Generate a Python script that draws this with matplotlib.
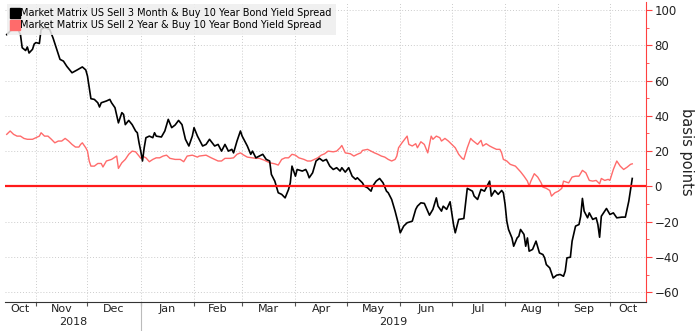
import numpy as np
import pandas as pd
import matplotlib
matplotlib.use("Agg")
import matplotlib.pyplot as plt
import matplotlib.dates as mdates
from matplotlib.lines import Line2D
from matplotlib.ticker import MultipleLocator
import matplotlib.transforms as mtransforms

plt.rcParams['font.family'] = ['DejaVu Sans']

# Sell 3M / buy 10Y spread (bp)
m3_dates = [
    "2018-10-15", "2018-10-17", "2018-10-19", "2018-10-21", "2018-10-22", "2018-10-23",
    "2018-10-24", "2018-10-26", "2018-10-27", "2018-10-28", "2018-10-30", "2018-10-31",
    "2018-11-01", "2018-11-03", "2018-11-04", "2018-11-06", "2018-11-09", "2018-11-11",
    "2018-11-14", "2018-11-15", "2018-11-17", "2018-11-19", "2018-11-22", "2018-11-25",
    "2018-11-28", "2018-11-30", "2018-12-01", "2018-12-02", "2018-12-03", "2018-12-05",
    "2018-12-07", "2018-12-08", "2018-12-09", "2018-12-12", "2018-12-14", "2018-12-15",
    "2018-12-17", "2018-12-19", "2018-12-21", "2018-12-22", "2018-12-23", "2018-12-25",
    "2018-12-27", "2018-12-29", "2018-12-30", "2018-12-31", "2019-01-01", "2019-01-02",
    "2019-01-03", "2019-01-04", "2019-01-06", "2019-01-08", "2019-01-09", "2019-01-10",
    "2019-01-13", "2019-01-15", "2019-01-17", "2019-01-19", "2019-01-21", "2019-01-23",
    "2019-01-25", "2019-01-27", "2019-01-29", "2019-01-31", "2019-02-01", "2019-02-03",
    "2019-02-06", "2019-02-08", "2019-02-10", "2019-02-13", "2019-02-15", "2019-02-17",
    "2019-02-19", "2019-02-21", "2019-02-23", "2019-02-24", "2019-02-26", "2019-02-28",
    "2019-03-01", "2019-03-04", "2019-03-06", "2019-03-07", "2019-03-09", "2019-03-11",
    "2019-03-13", "2019-03-15", "2019-03-17", "2019-03-18", "2019-03-20", "2019-03-22",
    "2019-03-24", "2019-03-26", "2019-03-28", "2019-03-29", "2019-03-30", "2019-04-01",
    "2019-04-02", "2019-04-05", "2019-04-07", "2019-04-08", "2019-04-09", "2019-04-11",
    "2019-04-13", "2019-04-15", "2019-04-17", "2019-04-19", "2019-04-21", "2019-04-23",
    "2019-04-25", "2019-04-27", "2019-04-28", "2019-04-30", "2019-05-02", "2019-05-04",
    "2019-05-06", "2019-05-07", "2019-05-10", "2019-05-11", "2019-05-13", "2019-05-15",
    "2019-05-16", "2019-05-18", "2019-05-20", "2019-05-22", "2019-05-24", "2019-05-25",
    "2019-05-27", "2019-05-29", "2019-05-31", "2019-06-01", "2019-06-03", "2019-06-05",
    "2019-06-08", "2019-06-10", "2019-06-11", "2019-06-13", "2019-06-15", "2019-06-18",
    "2019-06-20", "2019-06-22", "2019-06-23", "2019-06-25", "2019-06-26", "2019-06-28",
    "2019-06-30", "2019-07-02", "2019-07-03", "2019-07-05", "2019-07-08", "2019-07-10",
    "2019-07-13", "2019-07-14", "2019-07-16", "2019-07-18", "2019-07-20", "2019-07-23",
    "2019-07-24", "2019-07-26", "2019-07-28", "2019-07-30", "2019-07-31", "2019-08-01",
    "2019-08-02", "2019-08-03", "2019-08-05", "2019-08-06", "2019-08-08", "2019-08-09",
    "2019-08-10", "2019-08-12", "2019-08-13", "2019-08-14", "2019-08-15", "2019-08-17",
    "2019-08-19", "2019-08-21", "2019-08-23", "2019-08-24", "2019-08-25", "2019-08-27",
    "2019-08-29", "2019-08-31", "2019-09-02", "2019-09-04", "2019-09-05", "2019-09-06",
    "2019-09-08", "2019-09-09", "2019-09-11", "2019-09-13", "2019-09-14", "2019-09-15",
    "2019-09-16", "2019-09-18", "2019-09-19", "2019-09-21", "2019-09-23", "2019-09-24",
    "2019-09-25", "2019-09-26", "2019-09-28", "2019-09-29", "2019-10-01", "2019-10-03",
    "2019-10-05", "2019-10-08", "2019-10-10", "2019-10-12", "2019-10-13", "2019-10-14",
]
m3_spread = [
    86, 88, 89.3, 90, 88, 86,
    78.6, 77, 79, 75.6, 77.7, 80.7,
    81.5, 81, 89, 90, 89, 84,
    75, 72, 71, 68, 64.4, 66,
    67.7, 66, 62.5, 56, 49.7, 49.3,
    47.4, 45, 47.4, 48.4, 49.3, 47.4,
    44.6, 36, 41.8, 40.8, 35, 37.4,
    35, 31.4, 30.4, 24.7, 20, 14.4,
    21.9, 27.6, 28.5, 27.6, 30.4, 28.5,
    28, 31.4, 38, 33.3, 34.8, 37.4,
    35, 26.7, 22.9, 28.5, 33.3, 28.5,
    22.9, 23.8, 26.7, 22.9, 23.8, 20,
    23.8, 20, 21, 19, 25.7, 31.4,
    28.5, 22.9, 18.2, 20, 16.2, 17.2,
    18.2, 15.3, 14.4, 6.8, 3, -3.6,
    -4.5, -6.5, -1.7, 2, 11.5, 5.8,
    9.6, 8.7, 9.6, 7.7, 4.9, 7.7,
    14.4, 15.9, 14.4, 15.3, 11.5, 9.6,
    10.6, 8.7, 10.6, 8.1, 10.6, 5.8,
    4, 4.9, 2, 0.2, -0.8, -2.7,
    0.2, 3, 4.5, 2, -2.7, -3.6,
    -7.4, -14, -21.6, -26.3, -22.5, -20.6,
    -19.7, -13, -11.2, -9.3, -9.6, -16.3,
    -13, -6.5, -11.2, -14, -11.2, -13,
    -8.7, -21.6, -26.3, -18.7, -18.2, -1.1,
    -2.7, -5.5, -7.4, -1.7, -2.7, 3,
    -5.5, -2.3, -4.5, -2.3, -3.6, -10.2,
    -19.7, -24.4, -29.2, -33.9, -29.2, -28.2,
    -24.4, -27.2, -33.9, -29.2, -36.7, -35.7,
    -31, -37.7, -38.6, -40.5, -44.3, -46.2,
    -51.9, -50.3, -49.9, -50.9, -48, -40.5,
    -40.1, -31, -22.5, -21.6, -16.9, -6.8,
    -14, -17.8, -15, -18.7, -17.8, -21.6,
    -28.8, -16.9, -14, -12.5, -15.9, -15,
    -17.8, -17.4, -17.4, -8.3, -1.7, 4.5,
]

# Sell 2Y / buy 10Y spread (bp)
y2_dates = [
    "2018-10-15", "2018-10-17", "2018-10-19", "2018-10-21", "2018-10-23", "2018-10-25",
    "2018-10-27", "2018-10-30", "2018-11-01", "2018-11-03", "2018-11-04", "2018-11-06",
    "2018-11-08", "2018-11-10", "2018-11-12", "2018-11-14", "2018-11-16", "2018-11-18",
    "2018-11-20", "2018-11-22", "2018-11-24", "2018-11-26", "2018-11-27", "2018-11-28",
    "2018-11-30", "2018-12-01", "2018-12-02", "2018-12-03", "2018-12-05", "2018-12-07",
    "2018-12-09", "2018-12-10", "2018-12-12", "2018-12-15", "2018-12-18", "2018-12-19",
    "2018-12-21", "2018-12-23", "2018-12-25", "2018-12-27", "2018-12-29", "2018-12-31",
    "2019-01-01", "2019-01-02", "2019-01-04", "2019-01-06", "2019-01-08", "2019-01-10",
    "2019-01-12", "2019-01-14", "2019-01-16", "2019-01-18", "2019-01-21", "2019-01-24",
    "2019-01-26", "2019-01-28", "2019-01-31", "2019-02-03", "2019-02-04", "2019-02-08",
    "2019-02-11", "2019-02-13", "2019-02-15", "2019-02-17", "2019-02-19", "2019-02-22",
    "2019-02-24", "2019-02-26", "2019-02-28", "2019-03-02", "2019-03-04", "2019-03-07",
    "2019-03-09", "2019-03-11", "2019-03-14", "2019-03-17", "2019-03-20", "2019-03-22",
    "2019-03-24", "2019-03-26", "2019-03-28", "2019-03-30", "2019-04-01", "2019-04-03",
    "2019-04-06", "2019-04-08", "2019-04-10", "2019-04-12", "2019-04-14", "2019-04-16",
    "2019-04-18", "2019-04-20", "2019-04-23", "2019-04-25", "2019-04-27", "2019-04-28",
    "2019-04-30", "2019-05-03", "2019-05-05", "2019-05-07", "2019-05-09", "2019-05-10",
    "2019-05-13", "2019-05-15", "2019-05-17", "2019-05-19", "2019-05-21", "2019-05-23",
    "2019-05-25", "2019-05-27", "2019-05-29", "2019-05-30", "2019-05-31", "2019-06-02",
    "2019-06-04", "2019-06-05", "2019-06-06", "2019-06-08", "2019-06-10", "2019-06-11",
    "2019-06-13", "2019-06-15", "2019-06-17", "2019-06-19", "2019-06-20", "2019-06-22",
    "2019-06-24", "2019-06-25", "2019-06-27", "2019-06-29", "2019-07-01", "2019-07-03",
    "2019-07-05", "2019-07-07", "2019-07-08", "2019-07-10", "2019-07-12", "2019-07-13",
    "2019-07-16", "2019-07-18", "2019-07-19", "2019-07-21", "2019-07-23", "2019-07-25",
    "2019-07-27", "2019-07-29", "2019-07-30", "2019-07-31", "2019-08-02", "2019-08-04",
    "2019-08-07", "2019-08-10", "2019-08-12", "2019-08-14", "2019-08-15", "2019-08-16",
    "2019-08-18", "2019-08-20", "2019-08-22", "2019-08-23", "2019-08-25", "2019-08-27",
    "2019-08-28", "2019-08-30", "2019-09-01", "2019-09-03", "2019-09-04", "2019-09-07",
    "2019-09-09", "2019-09-11", "2019-09-13", "2019-09-15", "2019-09-17", "2019-09-19",
    "2019-09-21", "2019-09-23", "2019-09-25", "2019-09-26", "2019-09-28", "2019-09-30",
    "2019-10-01", "2019-10-03", "2019-10-05", "2019-10-07", "2019-10-09", "2019-10-11",
    "2019-10-13", "2019-10-14",
]
y2_spread = [
    29.5, 31.4, 29.5, 28.5, 28.5, 27.2,
    26.7, 26.7, 27.6, 28.5, 30.4, 28.5,
    28.5, 26.7, 24.7, 25.7, 25.7, 27.2,
    25.7, 23.8, 22.3, 22.3, 23.8, 24.7,
    21.9, 20, 14.4, 11.5, 11.5, 13,
    13, 11, 14.4, 15.3, 17.2, 10.2,
    13.4, 15.3, 18.2, 20, 19.6, 17.2,
    15.9, 17.2, 16.2, 14, 15.3, 16.2,
    16.2, 17.2, 17.7, 15.9, 15.3, 15.3,
    14, 17.2, 17.7, 16.6, 17.2, 17.7,
    16.2, 15.3, 14.4, 14.4, 15.9, 15.9,
    16.2, 18.2, 19, 17.7, 16.6, 16.2,
    15.9, 15.9, 14.8, 13.4, 12.8, 12.1,
    15.3, 16.2, 16.2, 18.2, 17.7, 16.2,
    15.3, 14.4, 14.4, 15.3, 16.2, 17.7,
    18.5, 20, 19.6, 20, 21.9, 23.2,
    19, 18.5, 17.2, 18.2, 19, 20.4,
    21, 20, 19, 18.2, 17.2, 16.6,
    15.3, 14.4, 15.3, 17.2, 21.9, 24.7,
    27.2, 28.5, 23.8, 22.9, 24.2, 21.9,
    25.3, 23.8, 19, 28.5, 26.7, 28.5,
    27.6, 25.7, 27.2, 25.7, 23.8, 21.9,
    18.2, 15.9, 15.3, 21.9, 27.2, 26.1,
    23.8, 26.1, 22.9, 24.2, 22.9, 21.9,
    21, 21, 19, 15.3, 14.4, 12.5,
    11.5, 8.3, 5.8, 3, 0.2, 3,
    7.2, 5.3, 2, -0.4, -1.1, -2.3,
    -5.5, -3.6, -2.7, -1.1, 3, 2,
    5.3, 5.8, 5.8, 9.1, 7.7, 3.4,
    3, 3.4, 1.5, 4.5, 3.4, 4,
    3.4, 9.6, 14.4, 11.5, 9.6, 10.9,
    12.5, 12.8,
]

label_3m = "Market Matrix US Sell 3 Month & Buy 10 Year Bond Yield Spread"
label_2y = "Market Matrix US Sell 2 Year & Buy 10 Year Bond Yield Spread"

m3 = pd.Series(m3_spread, index=pd.to_datetime(m3_dates))
y2 = pd.Series(y2_spread, index=pd.to_datetime(y2_dates))

x_start = pd.Timestamp("2018-10-14")
x_end = pd.Timestamp("2019-10-22")

fig = plt.figure(figsize=(7, 3.31), dpi=100)
ax = fig.add_axes([5/700, 1 - 302/331, 641/700, 300/331])

ax.plot(m3.index, m3.values, color="black", lw=1.2, zorder=3)
ax.plot(y2.index, y2.values, color="#ff6b6b", lw=1.0, zorder=2)
ax.axhline(0, color="#ff1a1a", lw=1.6, zorder=4)

ax.set_xlim(x_start, x_end)
ax.set_ylim(-65.5, 104.5)

# right hand y axis
ax.yaxis.tick_right()
ax.yaxis.set_label_position("right")
ax.yaxis.set_major_locator(MultipleLocator(20))
ax.yaxis.set_minor_locator(MultipleLocator(10))
ax.tick_params(axis="y", which="major", colors="#ff4040", labelcolor="#222222",
               length=4, width=0.8, labelsize=8.5, pad=2)
ax.tick_params(axis="y", which="minor", colors="#ff4040", length=2, width=0.6)
ax.set_ylabel("basis points", rotation=270, fontsize=10.5, color="#222222", labelpad=11)

for s in ["top", "left"]:
    ax.spines[s].set_visible(False)
ax.spines["right"].set_color("#ff4040")
ax.spines["bottom"].set_color("#333333")

# month ticks at month starts, labels centred on visible month
ax.xaxis.set_major_locator(mdates.MonthLocator())
ax.xaxis.set_major_formatter(plt.NullFormatter())
ax.tick_params(axis="x", which="major", length=3, color="#555555")
month_starts = pd.date_range("2018-10-01", "2019-11-01", freq="MS")
centers, names = [], []
for a, b in zip(month_starts[:-1], month_starts[1:]):
    lo, hi = max(a, x_start), min(b, x_end)
    centers.append(lo + (hi - lo) / 2)
    names.append(a.strftime("%b"))
ax.set_xticks(centers, minor=True)
ax.set_xticklabels(names, minor=True)
ax.tick_params(axis="x", which="minor", length=0, labelsize=8, labelcolor="#222222", pad=1.5)

ax.grid(True, which="major", color="#cccccc", ls=(0, (1, 2)), lw=0.7)

# year row
trans = mtransforms.blended_transform_factory(ax.transData, ax.transAxes)
jan = pd.Timestamp("2019-01-01")
ax.text(x_start + (jan - x_start) / 2, -0.067, "2018", transform=trans,
        ha="center", va="center", fontsize=8, color="#222222")
ax.text(jan + (x_end - jan) / 2, -0.067, "2019", transform=trans,
        ha="center", va="center", fontsize=8, color="#222222")
ax.add_line(Line2D([jan, jan], [0, -0.1], transform=trans, color="#bbbbbb",
                   lw=0.8, clip_on=False))

handles = [Line2D([], [], marker="s", ls="none", color="black", markersize=6.5),
           Line2D([], [], marker="s", ls="none", color="#ff6b6b", markersize=6.5)]
leg = ax.legend(handles, [label_3m, label_2y], loc="upper left", bbox_to_anchor=(0, 1),
                fontsize=7, frameon=True, facecolor="#eeeeee", edgecolor="none",
                framealpha=0.85, handlelength=0.7, handletextpad=0.2,
                labelspacing=0.2, borderpad=0.45, borderaxespad=0.2, fancybox=False)
leg.set_zorder(5)

fig.savefig("out.png", dpi=100)
